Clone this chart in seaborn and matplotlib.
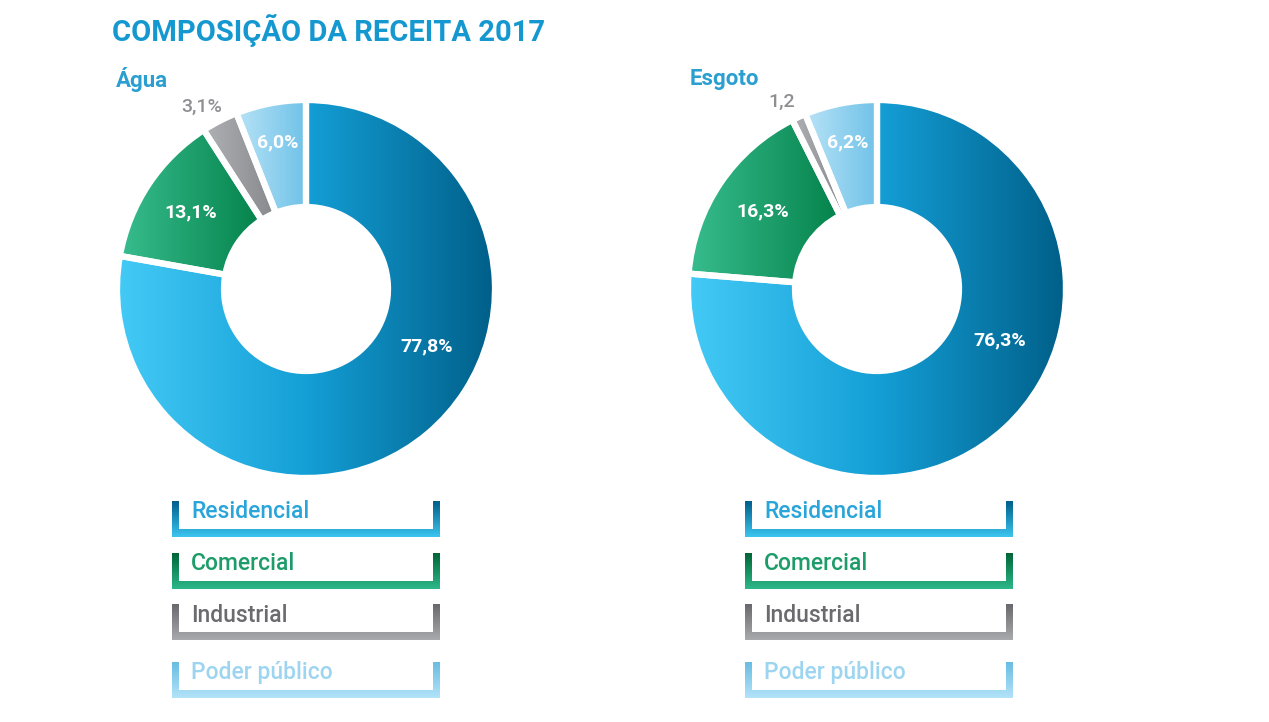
import numpy as np
import matplotlib
matplotlib.use("Agg")
import matplotlib.pyplot as plt
import seaborn as sb
from matplotlib.patches import Polygon

# ------------------ Dados ------------------
categorias = ["Residencial", "Comercial", "Industrial", "Poder público"]
agua = [77.8, 13.1, 3.1, 6.0]
esgoto = [76.3, 16.3, 1.2, 6.2]
rotulos_agua = ["77,8%", "13,1%", "3,1%", "6,0%"]
rotulos_esgoto = ["76,3%", "16,3%", "1,2", "6,2%"]
paineis = ["Água", "Esgoto"]
titulo = "COMPOSIÇÃO DA RECEITA 2017"

# ------------------ Estilos ------------------
W, H = 1269, 722
R = 189          # raio externo (px)
LARGURA = 107    # espessura do anel (px)

# gradiente horizontal das fatias (esquerda -> direita)
grad_fatia = {
    "Residencial": ["#44caf6", "#149fd6", "#005f89"],
    "Comercial": ["#38bd8e", "#04824b"],
    "Industrial": ["#b0b1b5", "#87888c"],
    "Poder público": ["#b8e3f7", "#70c2e8"],
}
# gradiente vertical dos colchetes da legenda (topo -> base)
grad_legenda = {
    "Residencial": ["#005e8a", "#3cc5f0"],
    "Comercial": ["#006536", "#2db88a"],
    "Industrial": ["#69696d", "#a9aaae"],
    "Poder público": ["#68bde2", "#b3e3f8"],
}
cor_texto_legenda = {
    "Residencial": "#2aa5d9",
    "Comercial": "#1d9c69",
    "Industrial": "#6b6b6f",
    "Poder público": "#9dd5f0",
}
cor_rotulo = ["white", "white", "#8e8f93", "white"]
peso_rotulo = ["bold", "bold", "medium", "bold"]
raio_rotulo = [0.705, 0.73, 1.11, 0.79]     # fração do raio externo
desvio_angulo = [24.5, 0, 2.5, 0]           # graus

centros = [(306, 289), (877, 289)]
legenda_x = [172, 745]
legenda_topo = [501, 553, 604, 662]


def Y(py):
    return H - py


def gradiente(ax, ext, cores, clip, vertical=False, z=2):
    x0, y0, x1, y1 = ext
    cmap = sb.blend_palette(cores, as_cmap=True)
    g = np.linspace(0, 1, 256)
    if vertical:
        arr = g[::-1][:, None]   # origin lower -> topo = primeira cor
    else:
        arr = g[None, :]
    im = ax.imshow(arr, cmap=cmap, extent=(x0, x1, y0, y1), origin="lower",
                   aspect="auto", zorder=z, interpolation="bilinear")
    im.set_clip_path(clip)


def desenha_rosca(ax, valores, rotulos, cx, cy):
    wedges, _ = ax.pie(valores, radius=R, center=(cx, Y(cy)), startangle=90,
                       counterclock=False,
                       wedgeprops=dict(width=LARGURA, facecolor="none",
                                       edgecolor="white", linewidth=4.5, zorder=3))
    for w, cat in zip(wedges, categorias):
        e = w.get_path().get_extents()
        gradiente(ax, (e.x0, e.y0, e.x1, e.y1), grad_fatia[cat], w)

    total = sum(valores)
    acumulado = 0
    for i, (v, txt) in enumerate(zip(valores, rotulos)):
        meio = 90 - 360 * (acumulado + v / 2) / total + desvio_angulo[i]
        acumulado += v
        rr = R * raio_rotulo[i]
        x = cx + rr * np.cos(np.radians(meio))
        y = Y(cy) + rr * np.sin(np.radians(meio))
        ax.text(x, y, txt, ha="center", va="center", color=cor_rotulo[i],
                fontsize=14, fontweight=peso_rotulo[i], zorder=5)


def desenha_legenda(ax, x0):
    x1 = x0 + 268
    t, tb, alt = 7, 8, 36
    for cat, topo in zip(categorias, legenda_topo):
        yt, yb = Y(topo), Y(topo + alt)
        pts = [(x0, yt), (x0 + t, yt), (x0 + t, yb + tb), (x1 - t, yb + tb),
               (x1 - t, yt), (x1, yt), (x1, yb), (x0, yb)]
        poly = Polygon(pts, closed=True, facecolor="none", edgecolor="none")
        ax.add_patch(poly)
        gradiente(ax, (x0, yb, x1, yt), grad_legenda[cat], poly, vertical=True)
        ax.text(x0 + 19, Y(topo + 11), cat, ha="left", va="center",
                color=cor_texto_legenda[cat], fontsize=16.5, fontweight="medium")


sb.set_theme(style="white")
plt.rcParams["font.family"] = ["Roboto", "DejaVu Sans"]

fig = plt.figure(figsize=(W / 100, H / 100), dpi=100)
ax = fig.add_axes([0, 0, 1, 1])

for (cx, cy), valores, rotulos in zip(centros, [agua, esgoto], [rotulos_agua, rotulos_esgoto]):
    desenha_rosca(ax, valores, rotulos, cx, cy)

for x0 in legenda_x:
    desenha_legenda(ax, x0)

ax.text(112, Y(31), titulo, ha="left", va="center", color="#1598d0",
        fontsize=21, fontweight="bold")
for x, nome in zip([116, 690], paineis):
    ax.text(x, Y(79), nome, ha="left", va="center", color="#2a9fd0",
            fontsize=16, fontweight="bold")

ax.set_xlim(0, W)
ax.set_ylim(0, H)
ax.set_aspect("auto")
ax.axis("off")

fig.savefig("out.png", dpi=100)
